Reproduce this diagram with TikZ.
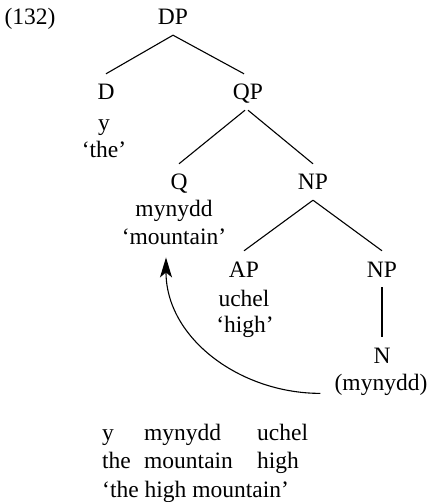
\documentclass[tikz,border=0pt]{standalone}
\usepackage{fontspec}
\setmainfont{Liberation Serif}
\usetikzlibrary{arrows.meta}
\begin{document}
\begin{tikzpicture}[x=1pt,y=-1pt,
  every node/.style={font=\fontsize{23.5}{28.5}\selectfont, inner sep=0pt, anchor=base},
  cat/.style={text height=16pt, text depth=0pt, inner ysep=10pt},
  branch/.style={line width=1.1pt},
  move/.style={line width=1.1pt, -{Stealth[length=20pt,width=12pt,inset=5pt]}}]
\useasboundingbox (0,0) rectangle (430,502);

% example number
\node (num) at (30,25) {(132)};

% categories
\node[cat] (DP)  at (173,25)  {DP};
\node[cat] (D)   at (106,100) {D};
\node[cat] (QP)  at (248,100) {QP};
\node[cat] (Q)   at (179,190) {Q};
\node[cat] (NP)  at (313,190) {NP};
\node[cat] (AP)  at (244,277) {AP};
\node[cat] (NPb) at (382,277) {NP};
\node[cat] (N)   at (382,363) {N};

% words and glosses under the heads
\node (y)     at (104,131) {y};
\node (the)   at (104,158) {`the'};
\node (myn)   at (174,217) {mynydd};
\node (mount) at (174,244) {`mountain'};
\node (uchel) at (244,306) {uchel};
\node (high)  at (245,332) {`high'};
\node (trace) at (381,390) {(mynydd)};

% branches
\draw[branch] (DP.south) -- (D.north);
\draw[branch] (DP.south) -- ([xshift=-4pt]QP.north);
\draw[branch] ([xshift=-3pt]QP.south) -- (Q.north);
\draw[branch] (QP.south) -- (NP.north);
\draw[branch] (NP.south) -- (AP.north);
\draw[branch] (NP.south) -- (NPb.north);
\draw[branch] (NPb.south) -- (N.north);

% head movement of the noun
\draw[move] ([xshift=-14pt,yshift=-9pt]trace.west) to[out=180,in=-90] ([xshift=-8pt,yshift=-13pt]mount.south);

% glosses below the tree
\node[anchor=base west] (g1) at (102,440) {y};
\node[anchor=base west] (g2) at (144,440) {mynydd};
\node[anchor=base west] (g3) at (257,440) {uchel};
\node[anchor=base west] (h1) at (102,468) {the};
\node[anchor=base west] (h2) at (144,468) {mountain};
\node[anchor=base west] (h3) at (257,468) {high};
\node[anchor=base west] (tr) at (102,497) {`the high mountain'};
\end{tikzpicture}
\end{document}
